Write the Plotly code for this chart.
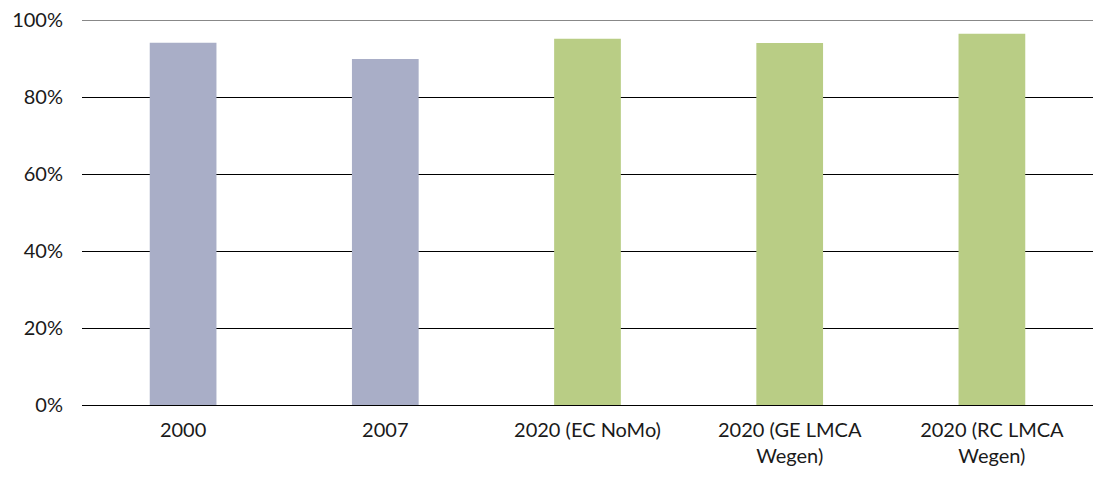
import plotly.graph_objects as go

categories = ["2000", "2007", "2020 (EC NoMo)", "2020 (GE LMCA<br>Wegen)", "2020 (RC LMCA<br>Wegen)"]
values = [0.941, 0.899, 0.951, 0.940, 0.964]
colors = ["#A9AEC7", "#A9AEC7", "#B9CD85", "#B9CD85", "#B9CD85"]
y_ticks = [0, 0.2, 0.4, 0.6, 0.8, 1.0]

fig = go.Figure(go.Bar(x=categories, y=values, marker=dict(color=colors, line=dict(width=0)),
                       hoverinfo="skip"))

fig.update_layout(
    width=1093, height=479,
    margin=dict(l=82, r=0, t=20, b=74, autoexpand=False),
    paper_bgcolor="white", plot_bgcolor="white",
    bargap=0.67,
    showlegend=False,
    font=dict(family="Lato", size=20, color="#1a1a1a"),
    xaxis=dict(showgrid=False, showline=False, ticks="", tickfont=dict(size=20),
               automargin=False, ticklabelstandoff=11),
    yaxis=dict(range=[0, 1.0], tickvals=y_ticks, tickformat=".0%", showgrid=True,
               gridcolor="#000000", gridwidth=1, zeroline=True, zerolinecolor="#000000",
               zerolinewidth=1, showline=False, ticklabelstandoff=18, tickfont=dict(size=20),
               automargin=False),
)
fig.add_shape(type="line", xref="paper", yref="y", x0=0, x1=1, y0=1.0, y1=1.0,
              line=dict(color="#888888", width=2), layer="below")
fig.write_html("out.html", config={"displayModeBar": False},
               post_script="document.body.style.margin='0';document.body.style.overflow='hidden';")
